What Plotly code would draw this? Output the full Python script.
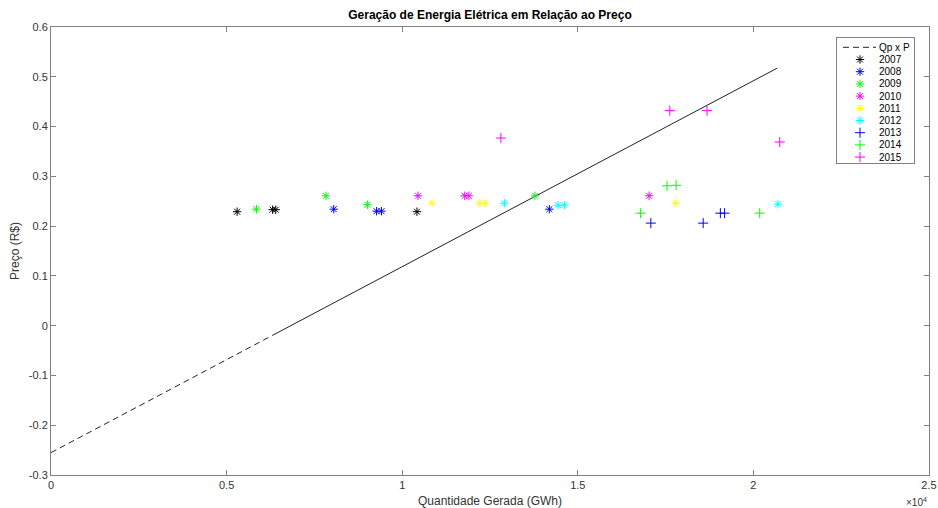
import plotly.graph_objects as go

# ---------------- data ----------------
anos = ["2007", "2008", "2009", "2010", "2011", "2012", "2013", "2014", "2015"]
geracao_2007 = [5300, 6310, 6400, 10420]
preco_2007 = [0.229, 0.233, 0.233, 0.229]
geracao_2008 = [8050, 9270, 9410, 14190]
preco_2008 = [0.234, 0.230, 0.230, 0.234]
geracao_2009 = [5850, 7830, 9010, 13780]
preco_2009 = [0.234, 0.261, 0.243, 0.261]
geracao_2010 = [10450, 11780, 11900, 17030]
preco_2010 = [0.261, 0.261, 0.261, 0.261]
geracao_2011 = [10850, 12210, 12370, 17790]
preco_2011 = [0.246, 0.246, 0.246, 0.246]
geracao_2012 = [12910, 14440, 14620, 20700]
preco_2012 = [0.246, 0.242, 0.242, 0.244]
geracao_2013 = [17080, 18570, 19060, 19180]
preco_2013 = [0.206, 0.206, 0.226, 0.226]
geracao_2014 = [16790, 17540, 17800, 20180]
preco_2014 = [0.226, 0.281, 0.282, 0.226]
geracao_2015 = [12810, 17620, 18680, 20750]
preco_2015 = [0.377, 0.432, 0.432, 0.369]

# regression line Qp x P
reta_intercepto = -0.255
reta_inclinacao = 3.735e-5
reta_x_tracejado = [0, 6300]
reta_x_solido = [6300, 20680]

x_tickvals = [0, 5000, 10000, 15000, 20000, 25000]
x_ticktext = ["0", "0.5", "1", "1.5", "2", "2.5"]
y_tickvals = [-0.3, -0.2, -0.1, 0, 0.1, 0.2, 0.3, 0.4, 0.5, 0.6]
y_ticktext = ["-0.3", "-0.2", "-0.1", "0", "0.1", "0.2", "0.3", "0.4", "0.5", "0.6"]

# ---------------- styles ----------------
geracoes = [geracao_2007, geracao_2008, geracao_2009, geracao_2010, geracao_2011,
            geracao_2012, geracao_2013, geracao_2014, geracao_2015]
precos = [preco_2007, preco_2008, preco_2009, preco_2010, preco_2011,
          preco_2012, preco_2013, preco_2014, preco_2015]
cores = ["#000000", "#0000ff", "#00ff00", "#ff00ff", "#ffff00", "#00ffff",
         "#0000ff", "#00ff00", "#ff00ff"]
simbolos = ["asterisk-open"] * 6 + ["cross-thin-open"] * 3
tamanhos = [7] * 6 + [7.2] * 3

FONT = "Liberation Sans, Arial, sans-serif"
TXT = "#333333"
AX = "#808080"

fig = go.Figure()

def reta(xs):
    return [reta_intercepto + reta_inclinacao * v for v in xs]

fig.add_trace(go.Scatter(x=reta_x_tracejado, y=reta(reta_x_tracejado), mode="lines",
                         line=dict(color="#222222", width=1, dash="6px,4px"),
                         showlegend=False, hoverinfo="skip"))
fig.add_trace(go.Scatter(x=reta_x_solido, y=reta(reta_x_solido), mode="lines",
                         line=dict(color="#222222", width=1),
                         showlegend=False, hoverinfo="skip"))

for ano, gx, py, c, s, sz in zip(anos, geracoes, precos, cores, simbolos, tamanhos):
    fig.add_trace(go.Scatter(x=gx, y=py, mode="markers", name=ano,
                             marker=dict(symbol=s, size=sz, color=c,
                                         line=dict(color=c, width=1)),
                             showlegend=False))

# ---------------- custom legend (inset axes) ----------------
rotulos = ["Qp x P"] + anos
passo = 12.2
y0 = 9.3
fig.add_trace(go.Scatter(x=[6, 39], y=[y0, y0], mode="lines", xaxis="x2", yaxis="y2",
                         line=dict(color="#222222", width=1, dash="6px,4px"),
                         showlegend=False, hoverinfo="skip"))
for i, (c, s, sz) in enumerate(zip(cores, simbolos, tamanhos)):
    yy = y0 + passo * (i + 1)
    fig.add_trace(go.Scatter(x=[23], y=[yy], mode="markers", xaxis="x2", yaxis="y2",
                             marker=dict(symbol=s, size=sz, color=c,
                                         line=dict(color=c, width=1)),
                             showlegend=False, hoverinfo="skip"))
for i, r in enumerate(rotulos):
    fig.add_annotation(x=42, y=y0 + passo * i, xref="x2", yref="y2", text=r,
                       showarrow=False, xanchor="left", yanchor="middle", xshift=-2,
                       font=dict(family=FONT, size=10, color="#000000"))

fig.update_layout(
    width=938, height=508,
    margin=dict(l=51, r=9, t=27, b=33, autoexpand=False),
    paper_bgcolor="white", plot_bgcolor="white",
    font=dict(family=FONT, size=11, color=TXT),
    showlegend=False,
    title=dict(text="<b>Geração de Energia Elétrica em Relação ao Preço</b>",
               x=0.5, xref="paper", xanchor="center", y=1 - 15 / 508, yanchor="middle",
               font=dict(family=FONT, size=12, color="#000000")),
    xaxis=dict(range=[0, 25000], tickvals=x_tickvals, ticktext=x_ticktext,
               showgrid=False, zeroline=False, showline=True, linecolor=AX, linewidth=1,
               mirror="allticks", ticks="inside", ticklen=5, tickcolor=AX,
               automargin=False,
               tickfont=dict(size=11, color=TXT),
               title=dict(text="Quantidade Gerada (GWh)", standoff=8,
                          font=dict(size=12, color=TXT))),
    yaxis=dict(range=[-0.3, 0.6], tickvals=y_tickvals, ticktext=y_ticktext,
               showgrid=False, zeroline=False, showline=True, linecolor=AX, linewidth=1,
               mirror="allticks", ticks="inside", ticklen=5, tickcolor=AX,
               automargin=False,
               tickfont=dict(size=11, color=TXT),
               title=dict(text="Preço (R$)", standoff=6,
                          font=dict(size=12, color=TXT))),
    xaxis2=dict(domain=[(837 - 51) / 878, (914 - 51) / 878], range=[0, 77],
                anchor="y2", showgrid=False, zeroline=False, showticklabels=False,
                showline=True, mirror=True, linecolor=AX, ticks="", automargin=False),
    yaxis2=dict(domain=[(475 - 163) / 448, (475 - 38) / 448], range=[125, 0],
                anchor="x2", showgrid=False, zeroline=False, showticklabels=False,
                showline=True, mirror=True, linecolor=AX, ticks="", automargin=False),
)

fig.add_annotation(x=1, y=-(510 - 475) / 448, xref="paper", yref="paper",
                   text="×10<sup>4</sup>", showarrow=False, xanchor="right", yanchor="bottom",
                   font=dict(family=FONT, size=10, color=TXT))

fig.write_html("out.html")
